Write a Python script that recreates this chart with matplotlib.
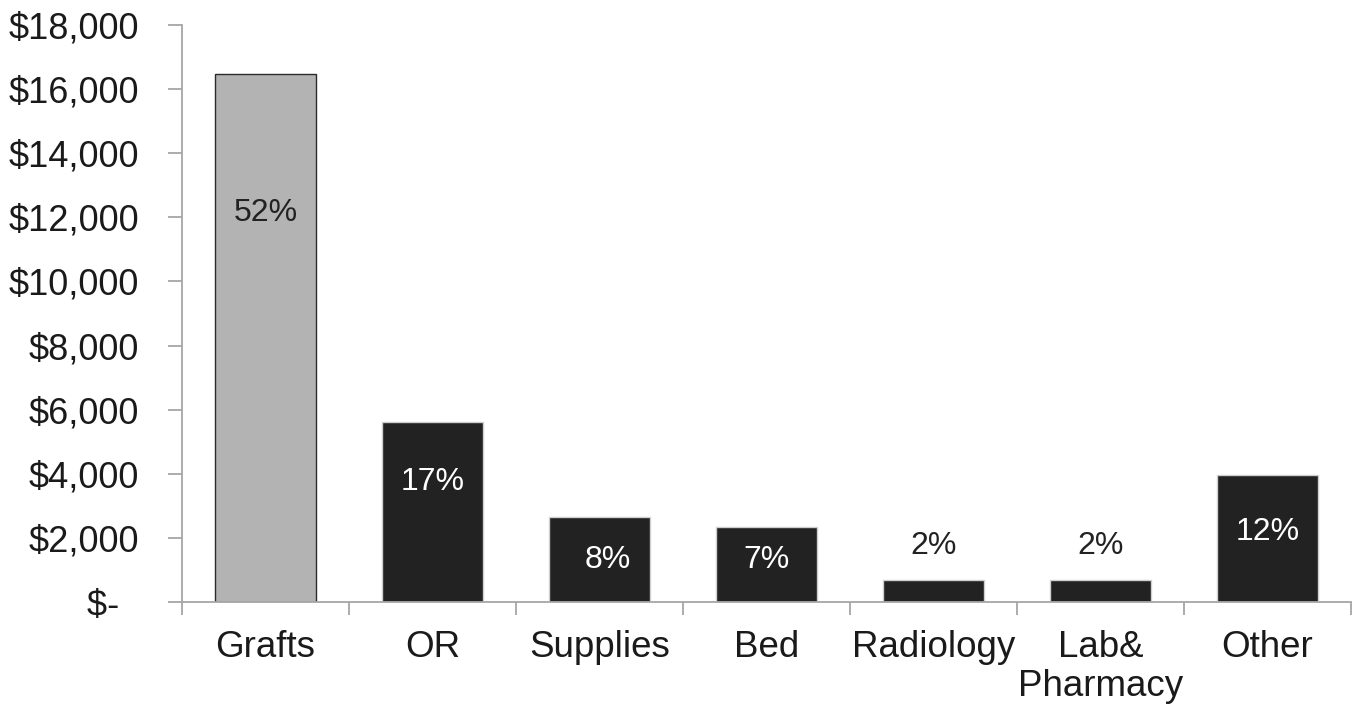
import matplotlib
matplotlib.use("Agg")
import matplotlib.pyplot as plt

# Cost components (USD) and their share of the total
categories = ["Grafts", "OR", "Supplies", "Bed", "Radiology", "Lab&\nPharmacy", "Other"]
costs = [16470, 5610, 2660, 2330, 690, 690, 3970]
shares = ["52%", "17%", "8%", "7%", "2%", "2%", "12%"]

# Label placement (data units) and colours
label_y = [12150, 3750, 1310, 1310, 1750, 1750, 2190]
label_dx = [0, 0, 0.05, 0, 0, 0, 0]
bar_colors = ["#b3b3b3", "#222222", "#222222", "#222222", "#222222", "#222222", "#222222"]
edge_colors = ["#2a2a2a", "#cfcfcf", "#cfcfcf", "#cfcfcf", "#cfcfcf", "#cfcfcf", "#cfcfcf"]
label_colors = ["#222222", "white", "white", "white", "#222222", "#222222", "white"]

yticks = list(range(0, 18001, 2000))
# accounting-style format: zero shown as a dash followed by padding
ytick_labels = ["$-  "] + [f"${v:,}" for v in yticks[1:]]

plt.rcParams["font.family"] = ["Liberation Sans", "DejaVu Sans"]

fig = plt.figure(figsize=(13.58, 7.09), dpi=100)
ax = fig.add_axes([182 / 1358, 1 - 602 / 709, (1351 - 182) / 1358, (602 - 25) / 709])

x = list(range(len(categories)))
ax.bar(x, costs, width=0.61, color=bar_colors, edgecolor=edge_colors, linewidth=1.0, zorder=2)

for xi, dx, yv, txt, col in zip(x, label_dx, label_y, shares, label_colors):
    ax.text(xi + dx, yv, txt, ha="center", va="center", fontsize=23, color=col, zorder=3)

ax.set_xlim(-0.5, len(categories) - 0.5)
ax.set_ylim(0, 18000)
ax.set_yticks(yticks)
ax.set_yticklabels(ytick_labels, fontsize=26, color="#1a1a1a")

# Category names sit between boundary ticks
ax.set_xticks(x)
ax.set_xticklabels(categories, fontsize=26.5, color="#1a1a1a", linespacing=1.17)
ax.tick_params(axis="x", which="major", length=0, pad=20)
ax.set_xticks([i - 0.5 for i in range(len(categories) + 1)], minor=True)
ax.tick_params(axis="x", which="minor", length=9, width=1.3, color="#a6a6a6")
ax.tick_params(axis="y", length=10, width=1.3, color="#a6a6a6", pad=21)
for lab in ax.get_yticklabels():
    lab.set_horizontalalignment("right")

for side in ["top", "right"]:
    ax.spines[side].set_visible(False)
for side in ["left", "bottom"]:
    ax.spines[side].set_color("#a6a6a6")
    ax.spines[side].set_linewidth(1.3)

fig.savefig("out.png", dpi=100, facecolor="white")
